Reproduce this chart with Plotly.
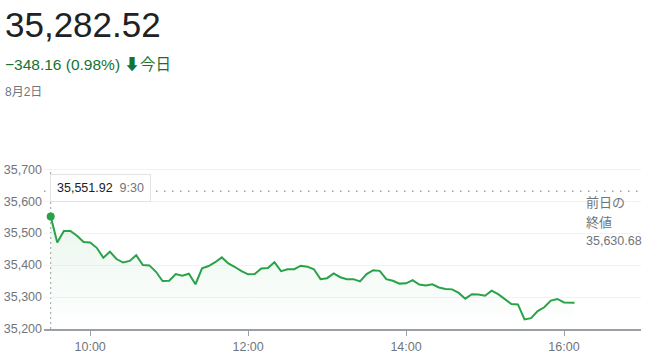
import plotly.graph_objects as go
import pandas as pd

# ---- data ----
price_now = "35,282.52"
change_text = "−348.16 (0.98%)"
date_label = "8月2日"
prev_close = 35630.68
first_price = 35551.92

times = list(pd.date_range("2023-08-02 09:30", periods=79, freq="5min")) + [pd.Timestamp("2023-08-02 16:08")]
values = [
    35551.92, 35471, 35507, 35507, 35492, 35472, 35471, 35454, 35423, 35442,
    35419, 35408, 35413, 35431, 35400, 35399, 35379, 35350, 35351, 35372,
    35367, 35373, 35340, 35390, 35397, 35409, 35424, 35405, 35394, 35381,
    35371, 35372, 35389, 35391, 35409, 35381, 35387, 35387, 35398, 35395,
    35387, 35356, 35359, 35374, 35362, 35356, 35356, 35349, 35372, 35384,
    35382, 35356, 35351, 35342, 35343, 35353, 35339, 35336, 35340, 35330,
    35325, 35324, 35313, 35295, 35309, 35308, 35304, 35320, 35309, 35294,
    35278, 35277, 35230, 35234, 35256, 35268, 35289, 35294, 35283, 35282.52,
]
y_ticks = [35200, 35300, 35400, 35500, 35600, 35700]
x_ticks = ["2023-08-02 10:00", "2023-08-02 12:00", "2023-08-02 14:00", "2023-08-02 16:00"]
x_tick_labels = ["10:00", "12:00", "14:00", "16:00"]

GREEN = "#28a348"
GRAY = "#70757a"
FONT = "Arial, 'Liberation Sans', 'Noto Sans CJK JP', sans-serif"

# layout geometry (pixels)
W, H = 650, 355
L, R, B = 44, 9, 26
Y_MIN, Y_MAX = 35200, 35710
plot_h = 163.2
T = H - B - plot_h
plot_w = W - L - R

def px(x):
    return (x - L) / plot_w

def py(y):
    return (H - B - y) / plot_h

fig = go.Figure()

fig.add_trace(go.Scatter(
    x=times, y=values, mode="lines",
    line=dict(color=GREEN, width=2),
    fill="tozeroy",
    fillgradient=dict(type="vertical", start=Y_MIN, stop=max(values),
                      colorscale=[[0, "rgba(40,163,72,0)"], [1, "rgba(40,163,72,0.10)"]]),
    hoverinfo="skip", showlegend=False,
))
fig.add_trace(go.Scatter(
    x=[times[0]], y=[first_price], mode="markers",
    marker=dict(color=GREEN, size=8), hoverinfo="skip", showlegend=False,
))

# previous close dotted line
fig.add_shape(type="line", xref="paper", yref="y", x0=0, x1=1, y0=prev_close, y1=prev_close,
              line=dict(color="#9aa0a6", width=1.5, dash="1.5px,6.5px"), layer="between")
# vertical dotted line at first point
fig.add_shape(type="line", xref="x", yref="paper", x0=times[0], x1=times[0], y0=0, y1=py(169),
              line=dict(color="#9aa0a6", width=1, dash="2px,3px"), layer="between")
# white box behind previous close label
fig.add_shape(type="rect", xref="paper", yref="paper", x0=px(584), x1=1.0, y0=py(252), y1=py(194),
              fillcolor="white", line=dict(width=0), layer="between")

annotations = [
    dict(text=price_now, x=px(3), y=py(24), font=dict(size=35, color="#202124")),
    dict(text=f"<span style='color:#137333'>{change_text} <b>⬇</b>今日</span>",
         x=px(3), y=py(64), font=dict(size=15.5, color="#137333")),
    dict(text=date_label, x=px(3), y=py(92), font=dict(size=12, color=GRAY)),
    dict(text="前日の", x=px(584), y=py(202), font=dict(size=13, color=GRAY)),
    dict(text="終値", x=px(584), y=py(222), font=dict(size=13, color=GRAY)),
    dict(text=f"{prev_close:,.2f}", x=px(584), y=py(241), font=dict(size=12.5, color=GRAY)),
    dict(text=f"<span style='color:#202124'>{first_price:,.2f}</span>  <span style='color:#70757a'>9:30</span>",
         x=px(50), y=py(188), font=dict(size=12.5), bgcolor="white",
         bordercolor="#e3e3e3", borderwidth=1, borderpad=6),
]
for a in annotations:
    a.update(xref="paper", yref="paper", xanchor="left", yanchor="middle", showarrow=False, align="left")
    fig.add_annotation(**a)

fig.update_layout(
    width=W, height=H,
    margin=dict(l=L, r=R, t=T, b=B, pad=0, autoexpand=False),
    paper_bgcolor="white", plot_bgcolor="white",
    font=dict(family=FONT, color=GRAY, size=12.5),
    xaxis=dict(
        range=["2023-08-02 09:24:55", "2023-08-02 16:58:30"],
        tickvals=x_ticks, ticktext=x_tick_labels, automargin=False,
        showgrid=False, showline=True, linecolor="#9aa0a6", linewidth=1.5,
        ticks="outside", ticklen=5, tickcolor="#9aa0a6", tickwidth=1,
        tickfont=dict(size=12.5, color=GRAY), zeroline=False,
    ),
    yaxis=dict(
        range=[Y_MIN, Y_MAX], tickvals=y_ticks, tickformat=",", automargin=False,
        showgrid=True, gridcolor="#f1f3f4", gridwidth=1,
        showline=False, zeroline=False, ticks="",
        ticklabelstandoff=1,
        tickfont=dict(size=12.5, color=GRAY),
    ),
)

fig.write_html("out.html")
